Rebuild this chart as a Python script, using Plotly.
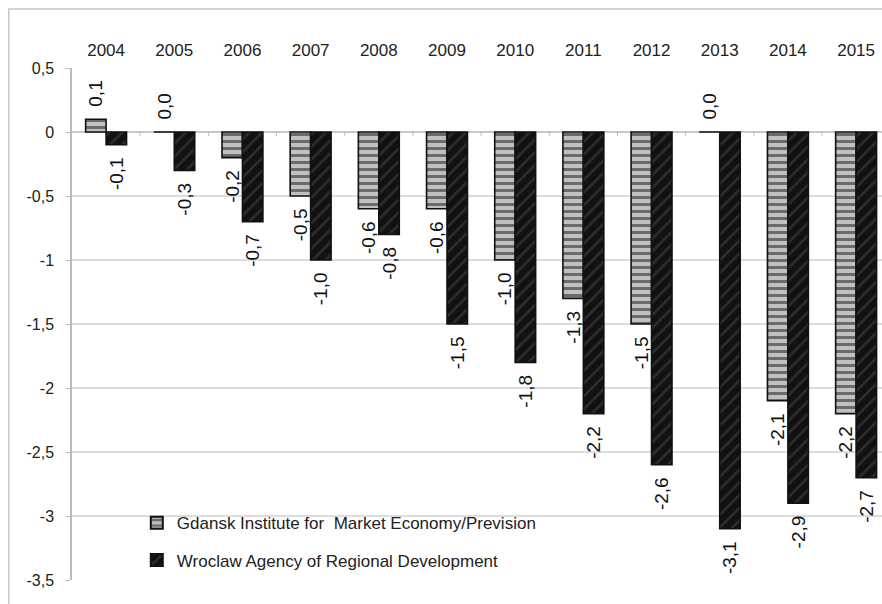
import plotly.graph_objects as go

years = ["2004", "2005", "2006", "2007", "2008", "2009", "2010", "2011", "2012", "2013", "2014", "2015"]
gdansk = [0.1, 0.0, -0.2, -0.5, -0.6, -0.6, -1.0, -1.3, -1.5, 0.0, -2.1, -2.2]
wroclaw = [-0.1, -0.3, -0.7, -1.0, -0.8, -1.5, -1.8, -2.2, -2.6, -3.1, -2.9, -2.7]
series_names = ["Gdansk Institute for  Market Economy/Prevision", "Wroclaw Agency of Regional Development"]
y_tick_vals = [0.5, 0, -0.5, -1, -1.5, -2, -2.5, -3, -3.5]
y_tick_text = ["0,5", "0", "-0,5", "-1", "-1,5", "-2", "-2,5", "-3", "-3,5"]

PAD = "\u2002"


def fmt(v):
    s = f"{v:.1f}".replace(".", ",")
    # padding on the side facing the bar end
    return s + PAD if v < 0 else PAD + s


FONT = "Liberation Sans, Arial, sans-serif"

fig = go.Figure()
fig.add_trace(go.Bar(
    x=list(range(len(years))), y=gdansk, name=series_names[0], legendgroup="g1",
    text=[fmt(v) for v in gdansk], textposition="outside", textangle=-90,
    textfont=dict(family=FONT, size=19, color="#111"),
    cliponaxis=False, constraintext="none",
    marker=dict(color="#bdbdbd", line=dict(color="#111", width=1.6),
                pattern=dict(shape="-", fgcolor="#111", bgcolor="#c0c0c0", size=7, solidity=0.42)),
))
fig.add_trace(go.Bar(
    x=list(range(len(years))), y=wroclaw, name=series_names[1], legendgroup="g2",
    text=[fmt(v) for v in wroclaw], textposition="outside", textangle=-90,
    textfont=dict(family=FONT, size=19, color="#111"),
    cliponaxis=False, constraintext="none",
    marker=dict(color="#111", line=dict(color="#111", width=1.6),
                pattern=dict(shape="/", fgcolor="#4a4a4a", bgcolor="#111", size=9, solidity=0.3)),
))

# small category tick marks on the zero line
shapes = []
for i in range(len(years) - 1):
    shapes.append(dict(type="line", xref="x", yref="y", x0=i + 0.5, x1=i + 0.5, y0=0, y1=-0.03,
                       line=dict(color="#bbbbbb", width=1)))
# outer chart border
shapes.append(dict(type="rect", xref="paper", yref="paper", x0=-0.078, x1=1.2, y0=-0.2, y1=1.115,
                   line=dict(color="#c8c8c8", width=1.5), fillcolor="rgba(0,0,0,0)", layer="below"))

fig.update_layout(
    width=882, height=604,
    margin=dict(l=72, r=0, t=68, b=24),
    paper_bgcolor="white", plot_bgcolor="white",
    barmode="group", bargap=0.4, bargroupgap=0,
    font=dict(family=FONT, size=16, color="#222"),
    showlegend=True,
    legend=dict(x=0.08, y=0.146, xanchor="left", yanchor="top",
                bgcolor="rgba(0,0,0,0)", font=dict(family=FONT, size=17, color="#222"),
                itemsizing="constant", itemwidth=30, tracegroupgap=12, traceorder="grouped"),
    shapes=shapes,
    xaxis=dict(side="top", tickmode="array", tickvals=list(range(len(years))), ticktext=years,
               range=[-0.5, 11.38], showgrid=False, zeroline=False, showline=False, ticks="",
               ticklabelstandoff=8,
               tickfont=dict(family=FONT, size=17, color="#222")),
    yaxis=dict(range=[-3.5, 0.5], tickvals=y_tick_vals, ticktext=y_tick_text,
               showgrid=True, gridcolor="#dcdcdc", gridwidth=1.5,
               zeroline=True, zerolinecolor="#c8c8c8", zerolinewidth=1.5,
               showline=True, linecolor="#bbbbbb", linewidth=1.5,
               ticks="outside", ticklen=5, tickcolor="#bbbbbb",
               ticklabelstandoff=8,
               tickfont=dict(family=FONT, size=16, color="#222")),
)

fig.write_html("out.html")
